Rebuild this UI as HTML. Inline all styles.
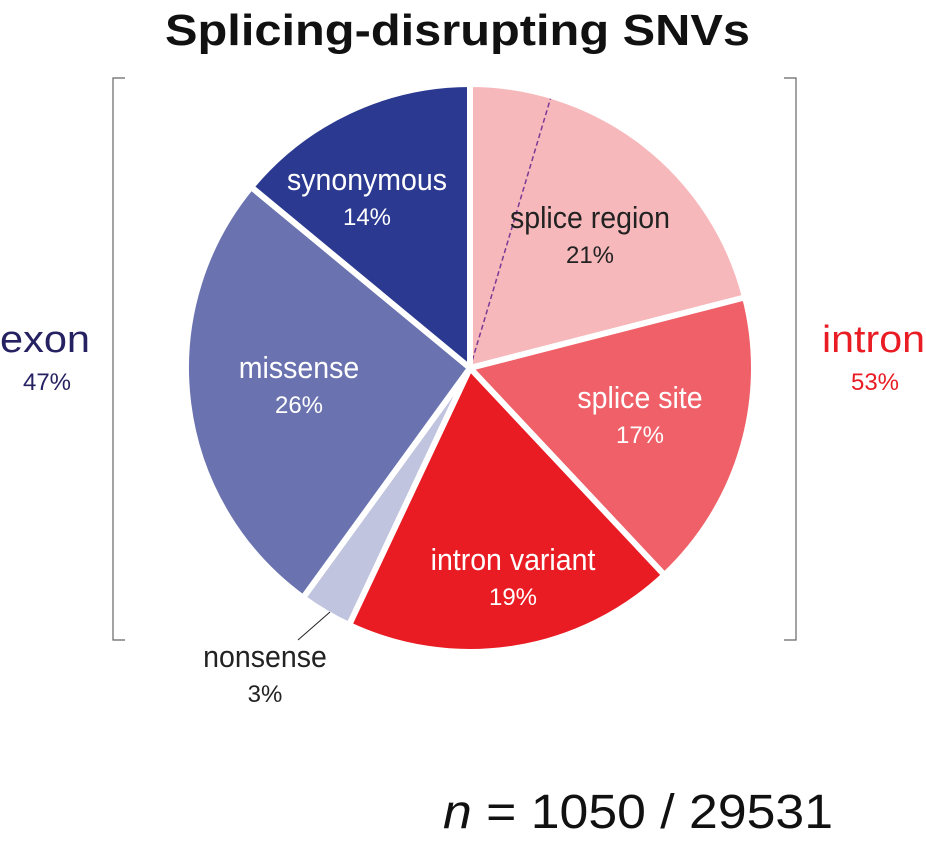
<!DOCTYPE html>
<html><head><meta charset="utf-8"><style>
body{margin:0;background:#fff;}
svg{display:block;font-family:"Liberation Sans",sans-serif;}
</style></head><body>
<svg id="chart" width="926" height="852" viewBox="0 0 926 852">
<text x="165" y="45" textLength="585" lengthAdjust="spacingAndGlyphs" font-size="44" font-weight="bold" fill="#111">Splicing-disrupting SNVs</text>
<g id="slices"></g>
<g id="labels"></g>
<path d="M125,78 H113 V640 H125" fill="none" stroke="#666" stroke-width="1.2"/>
<path d="M784,78 H796 V640 H784" fill="none" stroke="#666" stroke-width="1.2"/>
<text x="0" y="352" textLength="90" lengthAdjust="spacingAndGlyphs" font-size="38" fill="#262262">exon</text>
<text x="47" y="390" text-anchor="middle" font-size="24" fill="#262262">47%</text>
<text x="822" y="352" textLength="103" lengthAdjust="spacingAndGlyphs" font-size="38" fill="#e91c24">intron</text>
<text x="875" y="390" text-anchor="middle" font-size="24" fill="#e91c24">53%</text>
<line x1="330" y1="612" x2="298" y2="640" stroke="#222" stroke-width="1"/>
<text x="443" y="828" textLength="390" lengthAdjust="spacingAndGlyphs" font-size="48" fill="#111"><tspan font-style="italic">n</tspan> = 1050 / 29531</text>
</svg>
<script>
const categories = ["splice region","splice site","intron variant","nonsense","missense","synonymous"];
const values = [21,17,19,3,26,14];
const colors = ["#f7b8bb","#ef6068","#e91c24","#c0c4de","#6a73b0","#2b3990"];
const labelColors = ["#222","#fff","#fff","#222","#fff","#fff"];
const labelPos = [[590,228],[640,408],[513,570],[265,667],[299,378],[367,190]];
const cx=470, cy=368, R=284;
const NS="http://www.w3.org/2000/svg";
const gS=document.getElementById('slices'), gL=document.getElementById('labels');
const total=values.reduce((a,b)=>a+b,0);
function pt(a,r){return [cx+r*Math.sin(a), cy-r*Math.cos(a)];}
let start=0;
values.forEach((v,i)=>{
  const ang=v/total*2*Math.PI, end=start+ang;
  const p0=pt(start,R), p1=pt(end,R);
  const path=document.createElementNS(NS,'path');
  path.setAttribute('d',`M${cx},${cy} L${p0[0]},${p0[1]} A${R},${R} 0 ${ang>Math.PI?1:0} 1 ${p1[0]},${p1[1]} Z`);
  path.setAttribute('fill',colors[i]);
  path.setAttribute('stroke','#fff');
  path.setAttribute('stroke-width','6');
  path.setAttribute('stroke-linejoin','round');
  
  
  gS.appendChild(path);
  if(i===0){
    const sub=start+ang*0.22;
    const q=pt(sub,R-3);
    const ln=document.createElementNS(NS,'line');
    ln.setAttribute('x1',cx);ln.setAttribute('y1',cy);ln.setAttribute('x2',q[0]);ln.setAttribute('y2',q[1]);
    ln.setAttribute('stroke','#7a3a96');ln.setAttribute('stroke-width','1.5');ln.setAttribute('stroke-dasharray','5,3');
    
    
    gS.appendChild(ln);
  }
  const lp=labelPos[i];
  const t=document.createElementNS(NS,'text');
  t.setAttribute('x',lp[0]);t.setAttribute('y',lp[1]);
  t.setAttribute('text-anchor','middle');t.setAttribute('font-size','31');t.setAttribute('fill',labelColors[i]);
  t.setAttribute('transform',`translate(${lp[0]},0) scale(0.92,1) translate(${-lp[0]},0)`);
  t.textContent=categories[i];
  
  
  gL.appendChild(t);
  const t2=document.createElementNS(NS,'text');
  t2.setAttribute('x',lp[0]);t2.setAttribute('y',lp[1]+35);
  t2.setAttribute('text-anchor','middle');t2.setAttribute('font-size','24');t2.setAttribute('fill',labelColors[i]);
  t2.textContent=v+'%';
  
  
  gL.appendChild(t2);
  start=end;
});
</script>
</body></html>
